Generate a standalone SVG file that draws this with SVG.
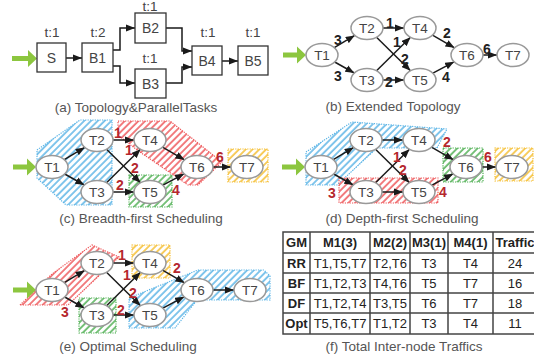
<svg xmlns="http://www.w3.org/2000/svg" width="534" height="362" viewBox="0 0 534 362">
<style>
.bx{fill:#fff;stroke:#333;stroke-width:1.3}
.n{fill:#fff;stroke:#999;stroke-width:1.5}
.t{font-family:"Liberation Sans",Arial,sans-serif;font-size:13.5px;fill:#444;text-anchor:middle}
.cap{font-family:"Liberation Sans",Arial,sans-serif;font-size:13.5px;fill:#555;text-anchor:middle}
.e{fill:none;stroke:#1a1a1a;stroke-width:1.5;marker-end:url(#ar)}
.lk{font-family:"Liberation Sans",Arial,sans-serif;font-size:14px;font-weight:bold;fill:#222;text-anchor:middle}
.lr{font-family:"Liberation Sans",Arial,sans-serif;font-size:14px;font-weight:bold;fill:#b5272d;text-anchor:middle}
.ga{fill:#8cc63f}
.hb{fill:url(#pb);stroke:#5ab4e6;stroke-width:1.2;stroke-dasharray:1.2 1.2}
.hr{fill:url(#pr);stroke:#ee5558;stroke-width:1.2;stroke-dasharray:1.2 1.2}
.hg{fill:url(#pg);stroke:#4cae50;stroke-width:1.2;stroke-dasharray:1.2 1.2}
.hy{fill:url(#py);stroke:#f5bd2e;stroke-width:1.2;stroke-dasharray:1.2 1.2}
.tb{fill:none;stroke:#444;stroke-width:1.5}
.tc{font-family:"Liberation Sans",Arial,sans-serif;font-size:13px;fill:#222;text-anchor:middle}
.th{font-family:"Liberation Sans",Arial,sans-serif;font-size:13px;font-weight:bold;fill:#222;text-anchor:middle}
</style>
<defs>
<marker id="ar" viewBox="0 0 10 8" refX="10" refY="4" markerWidth="9" markerHeight="7.5" markerUnits="userSpaceOnUse" orient="auto"><path d="M0,0 L10,4 L0,8 z" fill="#1a1a1a"/></marker>
<pattern id="pb" patternUnits="userSpaceOnUse" width="4.8" height="4.8" patternTransform="rotate(45)"><line x1="1" y1="0" x2="1" y2="4.8" stroke="#5ab4e6" stroke-width="1.5"/></pattern>
<pattern id="pr" patternUnits="userSpaceOnUse" width="4.8" height="4.8" patternTransform="rotate(45)"><line x1="1" y1="0" x2="1" y2="4.8" stroke="#ee5558" stroke-width="1.5"/></pattern>
<pattern id="pg" patternUnits="userSpaceOnUse" width="4.8" height="4.8" patternTransform="rotate(45)"><line x1="1" y1="0" x2="1" y2="4.8" stroke="#4cae50" stroke-width="1.5"/></pattern>
<pattern id="py" patternUnits="userSpaceOnUse" width="4.8" height="4.8" patternTransform="rotate(45)"><line x1="1" y1="0" x2="1" y2="4.8" stroke="#f5bd2e" stroke-width="1.5"/></pattern>
</defs>
<rect width="534" height="362" fill="#fff"/>

<!-- hatched groups -->
<g id="groups">
<polygon class="hb" points="37,150 80,120 112,120 112,205 66,205 37,178"/>
<polygon class="hr" points="118,121 170,121 222,162 198,185 188,185 137,150 118,135"/>
<rect class="hg" x="129" y="175" width="43" height="32"/>
<rect class="hy" x="228" y="149" width="40" height="33"/>
<polygon class="hb" points="306,152 352,122 447,129 437,148 377,148 337,185 306,185"/>
<rect class="hr" x="339" y="178" width="99" height="25"/>
<rect class="hg" x="443" y="148" width="40" height="34"/>
<rect class="hy" x="495" y="148" width="38" height="33"/>
<polygon class="hr" points="20,305 52,274 92,245 119,257 68,305"/>
<rect class="hy" x="132" y="245" width="38" height="33"/>
<rect class="hg" x="79" y="298" width="37" height="35"/>
<polygon class="hb" points="129,298 198,270 264,270 270,276 270,300 197,300 175,328 129,328"/>
</g>

<!-- panel a -->
<g id="panel-a">
<polygon class="ga" points="12,56 28,56 28,50 37,58.5 28,67 28,61 12,61"/>
<g id="connectors-a">
<line class="e" x1="66" y1="58" x2="82" y2="58"/>
<polyline class="e" points="113,50 120,50 120,28 135,28"/>
<polyline class="e" points="113,66 120,66 120,83 135,83"/>
<polyline class="e" points="166,28 182,28 182,51 192,51"/>
<polyline class="e" points="166,83 182,83 182,67 192,67"/>
<line class="e" x1="222" y1="61" x2="238" y2="61"/>
</g>
<g id="a-S"><rect class="bx" x="37" y="43" width="29" height="29"/><text class="t" x="51.5" y="62.5" style="font-size:14px">S</text><text class="t" x="52" y="37">t:1</text></g>
<g id="a-B1"><rect class="bx" x="82" y="43" width="31" height="29"/><text class="t" x="97.5" y="62.5" style="font-size:14px">B1</text><text class="t" x="98" y="37">t:2</text></g>
<g id="a-B2"><rect class="bx" x="135" y="13" width="31" height="30"/><text class="t" x="150.5" y="33" style="font-size:14px">B2</text><text class="t" x="150" y="10.5">t:1</text></g>
<g id="a-B3"><rect class="bx" x="135" y="69" width="31" height="29"/><text class="t" x="150.5" y="88.5" style="font-size:14px">B3</text><text class="t" x="150" y="63">t:1</text></g>
<g id="a-B4"><rect class="bx" x="192" y="46" width="30" height="29"/><text class="t" x="207" y="65.5" style="font-size:14px">B4</text><text class="t" x="208" y="37">t:1</text></g>
<g id="a-B5"><rect class="bx" x="238" y="46" width="30" height="29"/><text class="t" x="253" y="65.5" style="font-size:14px">B5</text><text class="t" x="253" y="37">t:1</text></g>
<text class="cap" x="136" y="112">(a) Topology&amp;ParallelTasks</text>
</g>

<!-- panel b -->
<g id="panel-b" transform="translate(322,55)">
<polygon class="ga" points="-39,-2.5 -25,-2.5 -25,-8.5 -16,0 -25,8.5 -25,2.5 -39,2.5"/>
<g id="connectors-b">
<line class="e" x1="12.3" y1="-7.4" x2="32.7" y2="-19.6"/>
<line class="e" x1="12.7" y1="7" x2="32.3" y2="18"/>
<line class="e" x1="61" y1="-27" x2="82" y2="-27"/>
<line class="e" x1="61" y1="25" x2="82" y2="25"/>
<line class="e" x1="54.5" y1="-17.7" x2="88.5" y2="15.7"/>
<line class="e" x1="54.5" y1="15.7" x2="88.5" y2="-17.7"/>
<line class="e" x1="110.5" y1="-19.8" x2="132.5" y2="-7.2"/>
<line class="e" x1="110.9" y1="18.2" x2="132.1" y2="6.8"/>
<line class="e" x1="161" y1="0" x2="175" y2="0"/>
</g>
<g id="b-T1"><ellipse class="n" cx="0" cy="0" rx="16" ry="11.5"/><text class="t" x="0" y="5">T1</text></g>
<g id="b-T2"><ellipse class="n" cx="45" cy="-27" rx="16" ry="11.5"/><text class="t" x="45" y="-22">T2</text></g>
<g id="b-T3"><ellipse class="n" cx="45" cy="25" rx="16" ry="11.5"/><text class="t" x="45" y="30">T3</text></g>
<g id="b-T4"><ellipse class="n" cx="98" cy="-27" rx="16" ry="11.5"/><text class="t" x="98" y="-22">T4</text></g>
<g id="b-T5"><ellipse class="n" cx="98" cy="25" rx="16" ry="11.5"/><text class="t" x="98" y="30">T5</text></g>
<g id="b-T6"><ellipse class="n" cx="145" cy="0" rx="16" ry="11.5"/><text class="t" x="145" y="5">T6</text></g>
<g id="b-T7"><ellipse class="n" cx="191" cy="0" rx="16" ry="11.5"/><text class="t" x="191" y="5">T7</text></g>
</g>
<g id="labels-b">
<text class="lk" x="338" y="45">3</text><text class="lk" x="338" y="81">3</text>
<text class="lk" x="390" y="28">1</text><text class="lk" x="397" y="47">1</text>
<text class="lk" x="405" y="64">2</text><text class="lk" x="389" y="87">2</text>
<text class="lk" x="447" y="38">2</text><text class="lk" x="446" y="82">4</text>
<text class="lk" x="487" y="54">6</text>
<text class="cap" x="393" y="111">(b) Extended Topology</text>
</g>

<!-- panel c -->
<g id="panel-c" transform="translate(52,167)">
<polygon class="ga" points="-39,-2.5 -25,-2.5 -25,-8.5 -16,0 -25,8.5 -25,2.5 -39,2.5"/>
<g id="connectors-c">
<line class="e" x1="12.3" y1="-7.4" x2="32.7" y2="-19.6"/>
<line class="e" x1="12.7" y1="7" x2="32.3" y2="18"/>
<line class="e" x1="61" y1="-27" x2="82" y2="-27"/>
<line class="e" x1="61" y1="25" x2="82" y2="25"/>
<line class="e" x1="54.5" y1="-17.7" x2="88.5" y2="15.7"/>
<line class="e" x1="54.5" y1="15.7" x2="88.5" y2="-17.7"/>
<line class="e" x1="110.5" y1="-19.8" x2="132.5" y2="-7.2"/>
<line class="e" x1="110.9" y1="18.2" x2="132.1" y2="6.8"/>
<line class="e" x1="161" y1="0" x2="179" y2="0"/>
</g>
<g id="c-T1"><ellipse class="n" cx="0" cy="0" rx="16" ry="11.5"/><text class="t" x="0" y="5">T1</text></g>
<g id="c-T2"><ellipse class="n" cx="45" cy="-27" rx="16" ry="11.5"/><text class="t" x="45" y="-22">T2</text></g>
<g id="c-T3"><ellipse class="n" cx="45" cy="25" rx="16" ry="11.5"/><text class="t" x="45" y="30">T3</text></g>
<g id="c-T4"><ellipse class="n" cx="98" cy="-27" rx="16" ry="11.5"/><text class="t" x="98" y="-22">T4</text></g>
<g id="c-T5"><ellipse class="n" cx="98" cy="25" rx="16" ry="11.5"/><text class="t" x="98" y="30">T5</text></g>
<g id="c-T6"><ellipse class="n" cx="145" cy="0" rx="16" ry="11.5"/><text class="t" x="145" y="5">T6</text></g>
<g id="c-T7"><ellipse class="n" cx="195" cy="0" rx="16" ry="11.5"/><text class="t" x="195" y="5">T7</text></g>
</g>
<g id="labels-c">
<text class="lr" x="118" y="138">1</text><text class="lr" x="129" y="155">1</text>
<text class="lr" x="135" y="173">2</text><text class="lr" x="120" y="190">2</text>
<text class="lr" x="176" y="195">4</text><text class="lr" x="220" y="162">6</text>
<text class="cap" x="141" y="223">(c) Breadth-first Scheduling</text>
</g>

<!-- panel d -->
<g id="panel-d" transform="translate(321,167)">
<polygon class="ga" points="-39,-2.5 -25,-2.5 -25,-8.5 -16,0 -25,8.5 -25,2.5 -39,2.5"/>
<g id="connectors-d">
<line class="e" x1="12.3" y1="-7.4" x2="32.7" y2="-19.6"/>
<line class="e" x1="12.7" y1="7" x2="32.3" y2="18"/>
<line class="e" x1="61" y1="-27" x2="82" y2="-27"/>
<line class="e" x1="61" y1="25" x2="82" y2="25"/>
<line class="e" x1="54.5" y1="-17.7" x2="88.5" y2="15.7"/>
<line class="e" x1="54.5" y1="15.7" x2="88.5" y2="-17.7"/>
<line class="e" x1="110.5" y1="-19.8" x2="132.5" y2="-7.2"/>
<line class="e" x1="110.9" y1="18.2" x2="132.1" y2="6.8"/>
<line class="e" x1="161" y1="0" x2="175" y2="0"/>
</g>
<g id="d-T1"><ellipse class="n" cx="0" cy="0" rx="16" ry="11.5"/><text class="t" x="0" y="5">T1</text></g>
<g id="d-T2"><ellipse class="n" cx="45" cy="-27" rx="16" ry="11.5"/><text class="t" x="45" y="-22">T2</text></g>
<g id="d-T3"><ellipse class="n" cx="45" cy="25" rx="16" ry="11.5"/><text class="t" x="45" y="30">T3</text></g>
<g id="d-T4"><ellipse class="n" cx="98" cy="-27" rx="16" ry="11.5"/><text class="t" x="98" y="-22">T4</text></g>
<g id="d-T5"><ellipse class="n" cx="98" cy="25" rx="16" ry="11.5"/><text class="t" x="98" y="30">T5</text></g>
<g id="d-T6"><ellipse class="n" cx="145" cy="0" rx="16" ry="11.5"/><text class="t" x="145" y="5">T6</text></g>
<g id="d-T7"><ellipse class="n" cx="191" cy="0" rx="16" ry="11.5"/><text class="t" x="191" y="5">T7</text></g>
</g>
<g id="labels-d">
<text class="lr" x="447" y="147">2</text><text class="lr" x="397" y="162">1</text>
<text class="lr" x="403" y="175">2</text><text class="lr" x="332" y="198">3</text>
<text class="lr" x="443" y="197">4</text><text class="lr" x="488" y="162">6</text>
<text class="cap" x="402" y="223">(d) Depth-first Scheduling</text>
</g>

<!-- panel e -->
<g id="panel-e" transform="translate(52,290)">
<polygon class="ga" points="-39,-2.5 -25,-2.5 -25,-8.5 -16,0 -25,8.5 -25,2.5 -39,2.5"/>
<g id="connectors-e">
<line class="e" x1="12.3" y1="-7.4" x2="32.7" y2="-19.6"/>
<line class="e" x1="12.7" y1="7" x2="32.3" y2="18"/>
<line class="e" x1="61" y1="-27" x2="82" y2="-27"/>
<line class="e" x1="61" y1="25" x2="82" y2="25"/>
<line class="e" x1="54.5" y1="-17.7" x2="88.5" y2="15.7"/>
<line class="e" x1="54.5" y1="15.7" x2="88.5" y2="-17.7"/>
<line class="e" x1="110.5" y1="-19.8" x2="132.5" y2="-7.2"/>
<line class="e" x1="110.9" y1="18.2" x2="132.1" y2="6.8"/>
<line class="e" x1="161" y1="0" x2="182" y2="0"/>
</g>
<g id="e-T1"><ellipse class="n" cx="0" cy="0" rx="16" ry="11.5"/><text class="t" x="0" y="5">T1</text></g>
<g id="e-T2"><ellipse class="n" cx="45" cy="-27" rx="16" ry="11.5"/><text class="t" x="45" y="-22">T2</text></g>
<g id="e-T3"><ellipse class="n" cx="45" cy="25" rx="16" ry="11.5"/><text class="t" x="45" y="30">T3</text></g>
<g id="e-T4"><ellipse class="n" cx="98" cy="-27" rx="16" ry="11.5"/><text class="t" x="98" y="-22">T4</text></g>
<g id="e-T5"><ellipse class="n" cx="98" cy="25" rx="16" ry="11.5"/><text class="t" x="98" y="30">T5</text></g>
<g id="e-T6"><ellipse class="n" cx="145" cy="0" rx="16" ry="11.5"/><text class="t" x="145" y="5">T6</text></g>
<g id="e-T7"><ellipse class="n" cx="198" cy="0" rx="16" ry="11.5"/><text class="t" x="198" y="5">T7</text></g>
</g>
<g id="labels-e">
<text class="lr" x="122" y="260">1</text><text class="lr" x="127" y="280">1</text>
<text class="lr" x="133" y="298">2</text><text class="lr" x="121" y="315">2</text>
<text class="lr" x="65" y="317">3</text><text class="lr" x="177" y="273">2</text>
<text class="cap" x="128" y="351">(e) Optimal Scheduling</text>
</g>

<!-- panel f table -->
<g id="table-f">
<rect class="tb" x="283" y="232" width="254" height="102"/>
<path class="tb" d="M283,253H537M283,273H537M283,293H537M283,313H537M310,232V334M370,232V334M410,232V334M448,232V334M493,232V334"/>
<text class="th" x="296.5" y="247">GM</text><text class="th" x="340" y="247">M1(3)</text><text class="th" x="390" y="247">M2(2)</text><text class="th" x="429" y="247">M3(1)</text><text class="th" x="470.5" y="247">M4(1)</text><text class="th" x="515" y="247">Traffic</text>
<text class="th" x="296.5" y="267.5">RR</text><text class="tc" x="340" y="267.5">T1,T5,T7</text><text class="tc" x="390" y="267.5">T2,T6</text><text class="tc" x="429" y="267.5">T3</text><text class="tc" x="470.5" y="267.5">T4</text><text class="tc" x="515" y="267.5">24</text>
<text class="th" x="296.5" y="287.5">BF</text><text class="tc" x="340" y="287.5">T1,T2,T3</text><text class="tc" x="390" y="287.5">T4,T6</text><text class="tc" x="429" y="287.5">T5</text><text class="tc" x="470.5" y="287.5">T7</text><text class="tc" x="515" y="287.5">16</text>
<text class="th" x="296.5" y="307.5">DF</text><text class="tc" x="340" y="307.5">T1,T2,T4</text><text class="tc" x="390" y="307.5">T3,T5</text><text class="tc" x="429" y="307.5">T6</text><text class="tc" x="470.5" y="307.5">T7</text><text class="tc" x="515" y="307.5">18</text>
<text class="th" x="296.5" y="328">Opt</text><text class="tc" x="340" y="328">T5,T6,T7</text><text class="tc" x="390" y="328">T1,T2</text><text class="tc" x="429" y="328">T3</text><text class="tc" x="470.5" y="328">T4</text><text class="tc" x="515" y="328">11</text>
<text class="cap" x="404" y="351">(f) Total Inter-node Traffics</text>
</g>
</svg>
